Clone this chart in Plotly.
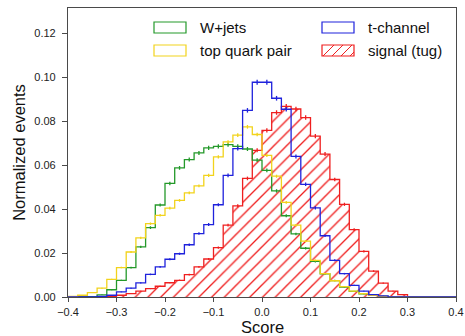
import numpy as np
import plotly.graph_objects as go

# Score binning: 40 bins of width 0.02 from -0.4 to 0.4
bin_lo = -0.40
bin_width = 0.02
n_bins = 40

# Normalized event fractions per bin
wjets = [0.0000, 0.0001, 0.0002, 0.0010, 0.0033, 0.0076, 0.0134, 0.0228, 0.0316, 0.0419,
         0.0517, 0.0588, 0.0626, 0.0656, 0.0679, 0.0686, 0.0694, 0.0686, 0.0674, 0.0623,
         0.0577, 0.0483, 0.0370, 0.0287, 0.0222, 0.0162, 0.0105, 0.0075, 0.0045, 0.0026,
         0.0014, 0.0007, 0.0003, 0.0001, 0.0, 0.0, 0.0, 0.0, 0.0, 0.0]
ttbar = [0.0003, 0.0008, 0.0020, 0.0040, 0.0080, 0.0134, 0.0205, 0.0269, 0.0334, 0.0372,
         0.0405, 0.0440, 0.0474, 0.0506, 0.0554, 0.0638, 0.0706, 0.0737, 0.0775, 0.0740,
         0.0645, 0.0550, 0.0431, 0.0327, 0.0254, 0.0167, 0.0106, 0.0074, 0.0047, 0.0027,
         0.0015, 0.0008, 0.0003, 0.0001, 0.0, 0.0, 0.0, 0.0, 0.0, 0.0]
tchannel = [0.0, 0.0, 0.0, 0.0003, 0.0008, 0.0023, 0.0040, 0.0064, 0.0103, 0.0137,
            0.0172, 0.0197, 0.0238, 0.0289, 0.0330, 0.0420, 0.0554, 0.0676, 0.0850, 0.0978,
            0.0978, 0.0905, 0.0855, 0.0640, 0.0513, 0.0406, 0.0279, 0.0167, 0.0106, 0.0053,
            0.0027, 0.0011, 0.0005, 0.0001, 0.0, 0.0, 0.0, 0.0, 0.0, 0.0]
signal = [0.0, 0.0, 0.0, 0.0, 0.0003, 0.0008, 0.0015, 0.0027, 0.0038, 0.0049,
          0.0065, 0.0076, 0.0102, 0.0137, 0.0173, 0.0225, 0.0327, 0.0415, 0.0540, 0.0668,
          0.0759, 0.0840, 0.0868, 0.0856, 0.0817, 0.0733, 0.0651, 0.0535, 0.0422, 0.0307,
          0.0208, 0.0118, 0.0063, 0.0027, 0.0011, 0.0002, 0.0, 0.0, 0.0, 0.0]

# Raw event counts used for the statistical uncertainty of each fraction
n_events = {"W+jets": 80000, "top quark pair": 110000, "t-channel": 80000, "signal (tug)": 80000}

labels = ["W+jets", "top quark pair", "t-channel", "signal (tug)"]
x_ticks = [-0.4, -0.3, -0.2, -0.1, 0.0, 0.1, 0.2, 0.3, 0.4]
y_ticks = [0.00, 0.02, 0.04, 0.06, 0.08, 0.10, 0.12]

GREEN = "#24992a"
YELLOW = "#f2d31c"
BLUE = "#1f22dc"
RED = "#ef1f1f"
FRAME = "#4a4a4a"
FONT = "Liberation Sans, Arial, Helvetica, sans-serif"

edges = np.round(bin_lo + bin_width * np.arange(n_bins + 1), 4)
centers = 0.5 * (edges[:-1] + edges[1:])


def step_xy(vals):
    x = np.concatenate([[edges[0]], edges])
    y = np.concatenate([[0.0], np.asarray(vals, float), [0.0]])
    return x, y


def err_trace(vals, color, n):
    v = np.asarray(vals, float)
    m = v > 0
    return go.Scatter(
        x=centers[m], y=v[m], mode="markers",
        marker=dict(size=1, color="rgba(0,0,0,0)"),
        error_y=dict(type="data", array=np.sqrt(v[m] / n), color=color,
                     thickness=1.3, width=0),
        hoverinfo="skip", showlegend=False,
    )


fig = go.Figure()

# signal: hatched step histogram
sx, sy = step_xy(signal)
fig.add_trace(go.Scatter(
    x=sx, y=sy, mode="lines", line=dict(color=RED, width=1.3, shape="hv"),
    fill="tozeroy", fillcolor="rgba(0,0,0,0)",
    fillpattern=dict(shape="/", fgcolor=RED, bgcolor="rgba(0,0,0,0)",
                     size=9, solidity=0.15, fillmode="replace"),
    name=labels[3], showlegend=False, hoverinfo="skip",
))
fig.add_trace(err_trace(signal, RED, n_events[labels[3]]))

for vals, color, lab in [(wjets, GREEN, labels[0]), (ttbar, YELLOW, labels[1]),
                         (tchannel, BLUE, labels[2])]:
    x, y = step_xy(vals)
    fig.add_trace(go.Scatter(
        x=x, y=y, mode="lines", line=dict(color=color, width=1.3, shape="hv"),
        name=lab, showlegend=False, hoverinfo="skip",
    ))
    fig.add_trace(err_trace(vals, color, n_events[lab]))

# Plot-area geometry in pixels
W, H = 465, 336
ML, MR, MT, MB = 68, 9, 8, 39
PW, PH = W - ML - MR, H - MT - MB


def px(xp):
    return (xp - ML) / PW


def py(yp):
    return (H - MB - yp) / PH


# Hand-placed legend: outlined boxes with labels
shapes = []
annotations = []
legend_items = [
    (labels[0], GREEN, 154, 22, False),
    (labels[1], YELLOW, 154, 45, False),
    (labels[2], BLUE, 322, 22, False),
    (labels[3], RED, 322, 45, True),
]
box_w, box_h = 32, 11
for lab, color, bx, by, hatched in legend_items:
    shapes.append(dict(type="rect", xref="paper", yref="paper",
                       x0=px(bx), x1=px(bx + box_w), y0=py(by + box_h), y1=py(by),
                       line=dict(color=color, width=1.2), fillcolor="rgba(0,0,0,0)"))
    if hatched:
        for k in range(4):
            x0 = bx + 1 + k * 9
            x1 = min(x0 + box_h, bx + box_w)
            y1 = by + box_h - (x1 - x0)
            shapes.append(dict(type="line", xref="paper", yref="paper",
                               x0=px(x0), y0=py(by + box_h), x1=px(x1), y1=py(y1),
                               line=dict(color=color, width=1)))
    annotations.append(dict(text=lab, xref="paper", yref="paper",
                            x=px(bx + box_w + 12), y=py(by + box_h / 2),
                            xanchor="left", yanchor="middle", showarrow=False,
                            font=dict(family=FONT, size=15, color="#111111")))

# x-axis title placed as a free annotation below the tick labels
annotations.append(dict(text="Score", xref="paper", yref="paper",
                        x=0.5, y=py(327), xanchor="center", yanchor="middle",
                        showarrow=False,
                        font=dict(family=FONT, size=16.5, color="#111111")))

fig.update_layout(
    width=W, height=H,
    margin=dict(l=ML, r=MR, t=MT, b=MB, pad=0, autoexpand=False),
    paper_bgcolor="white", plot_bgcolor="white",
    font=dict(family=FONT, color="#222222"),
    shapes=shapes, annotations=annotations,
    showlegend=False,
)
fig.update_xaxes(
    range=[-0.4, 0.4], tickvals=x_ticks, tickformat=".1f",
    showgrid=False, zeroline=False, automargin=False,
    showline=True, mirror=True, linecolor=FRAME, linewidth=1.2,
    ticks="outside", ticklen=4, tickcolor=FRAME, tickwidth=1,
    ticklabelstandoff=1,
    tickfont=dict(family=FONT, size=11, color="#222222"),
)
fig.update_yaxes(
    range=[0, 0.1316], tickvals=y_ticks, tickformat=".2f",
    showgrid=False, zeroline=False, automargin=False,
    showline=True, mirror=True, linecolor=FRAME, linewidth=1.2,
    ticks="outside", ticklen=5, tickcolor=FRAME, tickwidth=1,
    ticklabelstandoff=4,
    tickfont=dict(family=FONT, size=11, color="#222222"),
    title=dict(text="Normalized events", font=dict(family=FONT, size=16.5, color="#111111"), standoff=4),
)

fig.write_html("out.html")
